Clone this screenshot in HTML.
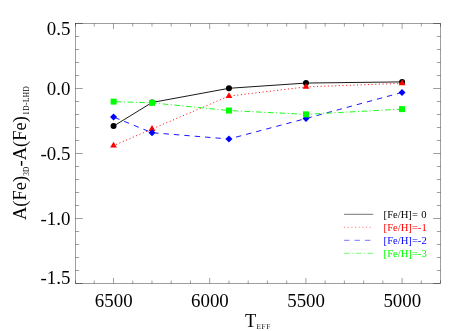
<!DOCTYPE html>
<html><head><meta charset="utf-8"><title>plot</title>
<style>
html,body{margin:0;padding:0;background:#fff;}
body{width:463px;height:331px;overflow:hidden;font-family:"Liberation Serif",serif;}
svg{display:block;will-change:transform;}
text{font-family:"Liberation Serif",serif;}
</style></head><body>
<svg width="463" height="331" viewBox="0 0 463 331">
<rect width="463" height="331" fill="#fff"/>
<rect x="75.50" y="23.5" width="365.00" height="260.00" stroke="#000" stroke-width="0.38" fill="none"/>
<path d="M440.50 283.5v-3.0M440.50 23.5v3.0M421.34 283.5v-3.0M421.34 23.5v3.0M402.10 283.5v-5.5M402.10 23.5v5.5M382.86 283.5v-3.0M382.86 23.5v3.0M363.62 283.5v-3.0M363.62 23.5v3.0M344.38 283.5v-3.0M344.38 23.5v3.0M325.14 283.5v-3.0M325.14 23.5v3.0M305.90 283.5v-5.5M305.90 23.5v5.5M286.66 283.5v-3.0M286.66 23.5v3.0M267.42 283.5v-3.0M267.42 23.5v3.0M248.18 283.5v-3.0M248.18 23.5v3.0M228.94 283.5v-3.0M228.94 23.5v3.0M209.70 283.5v-5.5M209.70 23.5v5.5M190.46 283.5v-3.0M190.46 23.5v3.0M171.22 283.5v-3.0M171.22 23.5v3.0M151.98 283.5v-3.0M151.98 23.5v3.0M132.74 283.5v-3.0M132.74 23.5v3.0M113.50 283.5v-5.5M113.50 23.5v5.5M94.26 283.5v-3.0M94.26 23.5v3.0M75.50 283.5v-3.0M75.50 23.5v3.0M75.50 23.50h7.3M440.50 23.50h-7.3M75.50 36.50h3.65M440.50 36.50h-3.65M75.50 49.50h3.65M440.50 49.50h-3.65M75.50 62.50h3.65M440.50 62.50h-3.65M75.50 75.50h3.65M440.50 75.50h-3.65M75.50 88.50h7.3M440.50 88.50h-7.3M75.50 101.50h3.65M440.50 101.50h-3.65M75.50 114.50h3.65M440.50 114.50h-3.65M75.50 127.50h3.65M440.50 127.50h-3.65M75.50 140.50h3.65M440.50 140.50h-3.65M75.50 153.50h7.3M440.50 153.50h-7.3M75.50 166.50h3.65M440.50 166.50h-3.65M75.50 179.50h3.65M440.50 179.50h-3.65M75.50 192.50h3.65M440.50 192.50h-3.65M75.50 205.50h3.65M440.50 205.50h-3.65M75.50 218.50h7.3M440.50 218.50h-7.3M75.50 231.50h3.65M440.50 231.50h-3.65M75.50 244.50h3.65M440.50 244.50h-3.65M75.50 257.50h3.65M440.50 257.50h-3.65M75.50 270.50h3.65M440.50 270.50h-3.65M75.50 283.50h7.3M440.50 283.50h-7.3" stroke="#000" stroke-width="0.38" fill="none"/>
<text x="113.70" y="306.9" font-size="18.9" text-anchor="middle">6500</text>
<text x="209.90" y="306.9" font-size="18.9" text-anchor="middle">6000</text>
<text x="306.10" y="306.9" font-size="18.9" text-anchor="middle">5500</text>
<text x="402.30" y="306.9" font-size="18.9" text-anchor="middle">5000</text>
<text x="70.4" y="34.6" font-size="18.9" text-anchor="end">0.5</text>
<text x="70.4" y="95.0" font-size="18.9" text-anchor="end">0.0</text>
<text x="70.4" y="160.0" font-size="18.9" text-anchor="end">-0.5</text>
<text x="70.4" y="225.0" font-size="18.9" text-anchor="end">-1.0</text>
<text x="70.4" y="284.0" font-size="18.9" text-anchor="end">-1.5</text>
<polyline points="113.55,126.1 152.0,102.5 228.95,88.3 306.0,83.05 402.1,81.9" fill="none" stroke="#000" stroke-width="0.9"/>
<circle cx="113.55" cy="126.1" r="3.0" fill="#000"/>
<circle cx="152.0" cy="102.5" r="3.0" fill="#000"/>
<circle cx="228.95" cy="88.3" r="3.0" fill="#000"/>
<circle cx="306.0" cy="83.05" r="3.0" fill="#000"/>
<circle cx="402.1" cy="81.9" r="3.0" fill="#000"/>
<polyline points="113.55,145.6 152.0,129.0 228.95,96.1 306.0,86.9 402.1,83.3" fill="none" stroke="#f00" stroke-width="0.9" stroke-dasharray="1.1 2.545" stroke-dashoffset="0.935"/>
<path d="M110.15 147.55L116.95 147.55L113.55 141.70Z" fill="#f00"/>
<path d="M148.60 130.95L155.40 130.95L152.0 125.10Z" fill="#f00"/>
<path d="M225.55 98.05L232.35 98.05L228.95 92.20Z" fill="#f00"/>
<path d="M302.60 88.85L309.40 88.85L306.0 83.00Z" fill="#f00"/>
<path d="M398.70 85.25L405.50 85.25L402.1 79.40Z" fill="#f00"/>
<polyline points="113.55,117.0 152.0,132.7 228.95,139.0 306.0,118.5 402.0,92.45" fill="none" stroke="#00f" stroke-width="0.9" stroke-dasharray="5.4 5.02" stroke-dashoffset="9.42"/>
<path d="M110.05 117.0L113.55 113.50L117.05 117.0L113.55 120.50Z" fill="#00f"/>
<path d="M148.50 132.7L152.0 129.20L155.50 132.7L152.0 136.20Z" fill="#00f"/>
<path d="M225.45 139.0L228.95 135.50L232.45 139.0L228.95 142.50Z" fill="#00f"/>
<path d="M302.50 118.5L306.0 115.00L309.50 118.5L306.0 122.00Z" fill="#00f"/>
<path d="M398.50 92.45L402.0 88.95L405.50 92.45L402.0 95.95Z" fill="#00f"/>
<polyline points="113.6,101.6 152.0,102.85 228.95,110.55 306.0,114.35 402.0,109.1" fill="none" stroke="#0f0" stroke-width="0.9" stroke-dasharray="5.6 2.5 1.1 2.53" stroke-dashoffset="9.48"/>
<rect x="110.60" y="98.60" width="6" height="6" fill="#0f0"/>
<rect x="149.00" y="99.85" width="6" height="6" fill="#0f0"/>
<rect x="225.95" y="107.55" width="6" height="6" fill="#0f0"/>
<rect x="303.00" y="111.35" width="6" height="6" fill="#0f0"/>
<rect x="399.00" y="106.10" width="6" height="6" fill="#0f0"/>
<path d="M344.1 214.3H373.2" stroke="#000" stroke-width="0.55" fill="none"/>
<text transform="translate(383.6 217.8) scale(0.965 1.03)" font-size="11" fill="#000">[Fe/H]= <tspan dx="0.8">0</tspan></text>
<path d="M344.1 227.3H373.2" stroke="#f00" stroke-width="0.55" fill="none" stroke-dasharray="1.1 2.545"/>
<text transform="translate(383.6 230.8) scale(0.965 1.03)" font-size="11" fill="#f00">[Fe/H]=-1</text>
<path d="M344.1 240.3H373.2" stroke="#00f" stroke-width="0.55" fill="none" stroke-dasharray="5.4 5.02"/>
<text transform="translate(383.6 243.8) scale(0.965 1.03)" font-size="11" fill="#00f">[Fe/H]=-2</text>
<path d="M344.1 253.3H373.2" stroke="#0f0" stroke-width="0.55" fill="none" stroke-dasharray="5.6 2.5 1.1 2.53"/>
<text transform="translate(383.6 256.8) scale(0.965 1.03)" font-size="11" fill="#0f0">[Fe/H]=-3</text>
<text x="244.9" y="326.7" font-size="18.5">T<tspan dy="2.3" dx="0.4" font-size="7.3" letter-spacing="0.55" style="text-rendering:geometricPrecision">EFF</tspan></text>
<text transform="translate(25.9 220.0) rotate(-90)" x="0" y="0" font-size="18.5">A(Fe)<tspan dy="2.6" font-size="7.3" letter-spacing="0.2">3D</tspan><tspan dy="-2.6">-A(Fe)</tspan><tspan dy="2.6" dx="1.2" font-size="7.3" letter-spacing="0.5">1D-LHD</tspan></text>
</svg></body></html>
